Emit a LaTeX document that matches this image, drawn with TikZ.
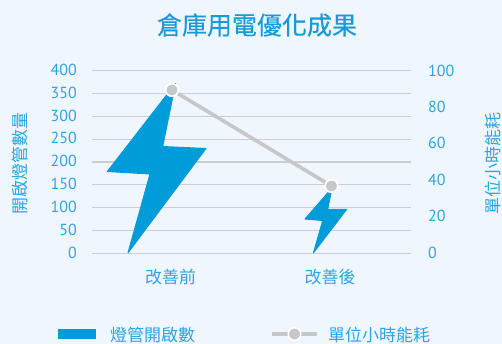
\documentclass[tikz,border=0pt]{standalone}
\usepackage{fontspec}
\setmainfont{PT Sans}
\newfontfamily\cjk{Noto Sans CJK TC}
\newfontfamily\cjkm[FakeBold=0.35]{Noto Sans CJK TC}
\definecolor{bgc}{HTML}{F0F6FE}
\definecolor{bolt}{HTML}{009CDA}
\definecolor{txt}{HTML}{2BA6E0}
\definecolor{ttl}{HTML}{169BD8}
\definecolor{grid}{HTML}{CBCDD0}
\definecolor{ln}{HTML}{C6C7C8}
\tikzset{
 x=1pt,y=-1pt,
 gridline/.style={draw=grid,line width=1.1pt},
 boltshape/.style={fill=bolt,draw=bolt,line width=1pt,line join=round},
 ticklab/.style={text=txt,font=\fontsize{16}{16}\selectfont,inner sep=0pt},
 catlab/.style={text=txt,font=\cjk\fontsize{17}{17}\selectfont,inner sep=0pt},
 axlab/.style={text=txt,font=\cjk\fontsize{17}{17}\selectfont,inner sep=0pt,rotate=90},
 marker/.style={circle,fill=ln,draw=white,line width=1.5pt,minimum size=12.5pt,inner sep=0pt},
 lline/.style={draw=ln,line width=3.6pt},
}
\begin{document}
\begin{tikzpicture}
\useasboundingbox[fill=bgc] (0,0) rectangle (502,344);
\foreach \i in {0,...,8}{
  \draw[gridline] (92,{253.3-22.83*\i}) -- (411,{253.3-22.83*\i});
}
\foreach \v [count=\i from 0] in {0,50,...,400}{
  \node[ticklab,anchor=east] (l\i) at (77,{252.5-22.83*\i}) {\v};
}
\foreach \v [count=\i from 0] in {0,20,40,60,80,100}{
  \node[ticklab,anchor=west] (r\i) at (428,{252.5-36.4*\i}) {\v};
}
\fill[boltshape] (175.5,83.5) -- (162.7,146.5) -- (206,148.5) -- (128,252.8) -- (150,174) -- (107.3,171.5) -- cycle;
\fill[boltshape] (332,188) -- (327.7,209.3) -- (346.7,209.3) -- (313.5,252.8) -- (322.7,220.5) -- (305,219) -- cycle;
\node[marker] (m1) at (172,90) {};
\node[marker] (m2) at (331.5,186) {};
\draw[lline] (m1) -- (m2);
\node[marker] at (m1) {};
\node[marker] at (m2) {};
\node[text=ttl,font=\cjkm\fontsize{25}{25}\selectfont,inner sep=0pt] (title) at (257,25) {倉庫用電優化成果};
\node[catlab] (c1) at (170.5,277) {改善前};
\node[catlab] (c2) at (330,277) {改善後};
\node[axlab] (ya) at (20,163.5) {開啟燈管數量};
\node[axlab] (yb) at (492.5,163.5) {單位小時能耗};
\node[fill=bolt,minimum width=38pt,minimum height=10pt,inner sep=0pt] (k1) at (77,334) {};
\node[catlab,anchor=west] (t1) at (110,335) {燈管開啟數};
\coordinate (k2a) at (272,334);
\coordinate (k2b) at (317,334);
\draw[lline] (k2a) -- (k2b);
\node[marker] (k2) at (294.5,334) {};
\node[catlab,anchor=west] (t2) at (328,335) {單位小時能耗};
\end{tikzpicture}
\end{document}
